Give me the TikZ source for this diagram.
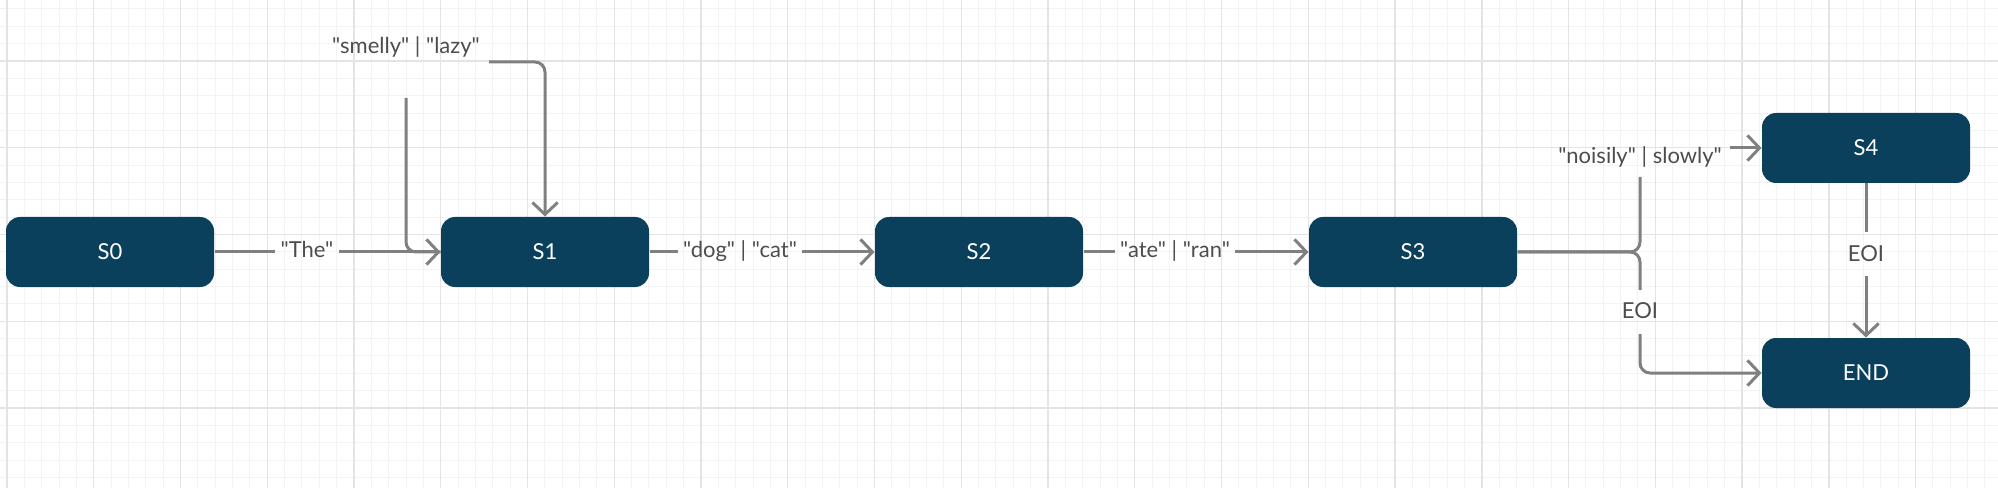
\documentclass[tikz,border=0pt]{standalone}
\usepackage{fontspec}
\newfontfamily\latofont{Lato}
\usetikzlibrary{arrows.meta}

\definecolor{stateblue}{RGB}{11,64,92}
\definecolor{wiregray}{RGB}{128,128,128}
\definecolor{labelgray}{RGB}{77,77,77}
\definecolor{gridminor}{RGB}{243,243,243}
\definecolor{gridmajor}{RGB}{228,228,228}

\tikzset{every picture/.style={line width=0.75pt}}
\tikzset{
  state/.style={fill=stateblue, rounded corners=10.5pt, minimum width=156pt, minimum height=52.5pt, text=white, font=\latofont\fontsize{16.5}{19}\selectfont},
  lbl/.style={text=labelgray, font=\latofont\fontsize{16.5}{19}\selectfont, inner xsep=3.75pt, inner ysep=0pt, text height=8.6pt, text depth=0pt},
  wire/.style={draw=wiregray, line width=2.25pt, rounded corners=7.5pt},
  tip/.style={-{Straight Barb[length=9pt,width=19pt,line width=2.25pt]}}
}

\begin{document}
\begin{tikzpicture}[x=0.75pt,y=0.75pt,yscale=-1,xscale=1]
\useasboundingbox (0,0) rectangle (1998,488);

% Grid
\foreach \k in {0,...,114} \draw[gridminor] ({7+17.35*\k},0) -- ({7+17.35*\k},488);
\foreach \k in {0,...,27} \draw[gridminor] (0,{8.95+17.35*\k}) -- (1998,{8.95+17.35*\k});
\foreach \k in {0,...,22} \draw[gridmajor, line width=1.1pt] ({7+86.75*\k},0) -- ({7+86.75*\k},488);
\foreach \k in {1,...,5} \draw[gridmajor, line width=1.1pt] (0,{-25.75+86.75*\k}) -- (1998,{-25.75+86.75*\k});

% State Nodes
\node[state] (S0) at (110,252) {S0};
\node[state] (S1) at (545,252) {S1};
\node[state] (S2) at (979,252) {S2};
\node[state] (S3) at (1413,252) {S3};
\node[state] (S4) at (1866,148) {S4};
\node[state] (END) at (1866,373) {END};

% Text Node
\node[lbl] (lThe) at (307,252) {"The"};
\node[lbl] (lDog) at (740,252) {"dog" | "cat"};
\node[lbl] (lAte) at (1175,252) {"ate" | "ran"};
\node[lbl] (lLoop) at (406,48) {"smelly" | "lazy"};
\node[lbl] (lUp) at (1640,158) {"noisily" | slowly"};
\node[lbl] (lDn) at (1640,313) {EOI};
\node[lbl] (lEnd) at (1866,256) {EOI};

% Gap ends
\coordinate (loopA) at (406,98);
\coordinate (loopB) at (489,62);
\coordinate (upA) at (1640,177);
\coordinate (upB) at (1730,148);
\coordinate (dnA) at (1640,290);
\coordinate (dnB) at (1640,334);
\coordinate (eoiA) at (1866,232);
\coordinate (eoiB) at (1866,276);

% Connection
\draw[wire] (S0) -- (lThe);
\draw[wire, tip] (lThe) -- (S1);
% Connection
\draw[wire] (S1.west) -| (loopA);
\draw[wire, tip] (loopB) -| (S1.north);
% Connection
\draw[wire] (S1) -- (lDog);
\draw[wire, tip] (lDog) -- (S2);
% Connection
\draw[wire] (S2) -- (lAte);
\draw[wire, tip] (lAte) -- (S3);
% Connection
\draw[wire] (S3.east) -| (upA);
\draw[wire, tip] (upB) -- (S4.west);
% Connection
\draw[wire] (S3.east) -| (dnA);
\draw[wire, tip] (dnB) |- (END.west);
% Connection
\draw[wire] (S4) -- (eoiA);
\draw[wire, tip] (eoiB) -- (END);

\end{tikzpicture}
\end{document}
